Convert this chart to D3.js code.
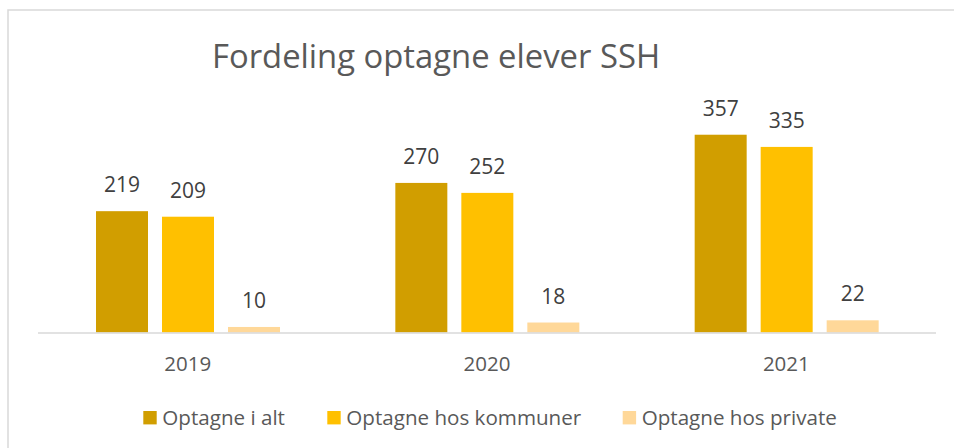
<!DOCTYPE html>
<html>
<head>
<meta charset="utf-8">
<script src="https://cdn.jsdelivr.net/npm/d3@7"></script>
<style>
  body { margin: 0; background: #fff; }
  svg { display: block; font-family: 'Open Sans', Lato, sans-serif; }
</style>
</head>
<body>
<script>
let years = ['2019', '2020', '2021']
let seriesNames = ['Optagne i alt', 'Optagne hos kommuner', 'Optagne hos private']
let colors = ['#D19E00', '#FFC000', '#FFD899']
let totalValues = [219, 270, 357]
let kommunerValues = [209, 252, 335]
let privateValues = [10, 18, 22]

let seriesValues = [totalValues, kommunerValues, privateValues]

let W = 954, H = 448

let svg = d3.select('body').append('svg')
  .attr('width', W)
  .attr('height', H)

// chart frame
svg.append('path')
  .attr('d', 'M8,' + H + 'V10H' + W)
  .attr('fill', 'none')
  .attr('stroke', '#D9D9D9')
  .attr('stroke-width', 1.5)

svg.append('text')
  .attr('x', 212)
  .attr('y', 67.5)
  .attr('font-size', 32.8)
  .attr('fill', '#595959')
  .text('Fordeling optagne elever SSH')

let x = d3.scaleBand()
  .domain(years)
  .range([38, 936])

let xi = d3.scaleBand()
  .domain(d3.range(seriesNames.length))
  .range([58, 242])
  .paddingInner(14 / 66)

let y = d3.scaleLinear()
  .domain([0, 400])
  .range([332.5, 110.9])

let groups = svg.append('g').selectAll('g')
  .data(years)
  .join('g')
    .attr('transform', (d) => 'translate(' + x(d) + ',0)')

groups.selectAll('rect')
  .data((d, i) => seriesValues.map((s, k) => ({ k: k, v: s[i] })))
  .join('rect')
    .attr('x', (d) => xi(d.k))
    .attr('width', xi.bandwidth())
    .attr('y', (d) => y(d.v))
    .attr('height', (d) => y(0) - y(d.v))
    .attr('fill', (d) => colors[d.k])

groups.selectAll('text.val')
  .data((d, i) => seriesValues.map((s, k) => ({ k: k, v: s[i] })))
  .join('text')
    .attr('class', 'val')
    .attr('x', (d) => xi(d.k) + xi.bandwidth() / 2)
    .attr('y', (d) => y(d.v) - 19)
    .attr('text-anchor', 'middle')
    .attr('font-size', 21)
    .attr('fill', '#404040')
    .text((d) => d.v)

// baseline
svg.append('line')
  .attr('x1', x.range()[0])
  .attr('x2', x.range()[1])
  .attr('y1', y(0) + 0.5)
  .attr('y2', y(0) + 0.5)
  .attr('stroke', '#D9D9D9')
  .attr('stroke-width', 1.5)

svg.append('g').selectAll('text')
  .data(years)
  .join('text')
    .attr('x', (d) => x(d) + x.bandwidth() / 2)
    .attr('y', 370.7)
    .attr('text-anchor', 'middle')
    .attr('font-size', 20.5)
    .attr('fill', '#595959')
    .text((d) => d)

// legend
let legendX = [143.3, 327.3, 622.7]
let legend = svg.append('g').selectAll('g')
  .data(seriesNames)
  .join('g')
    .attr('transform', (d, i) => 'translate(' + legendX[i] + ',411)')

legend.append('rect')
  .attr('width', 13.4)
  .attr('height', 13.4)
  .attr('fill', (d, i) => colors[i])

legend.append('text')
  .attr('x', 19)
  .attr('y', 13.5)
  .attr('font-size', 20.6)
  .attr('fill', '#595959')
  .text((d) => d)
</script>
</body>
</html>
